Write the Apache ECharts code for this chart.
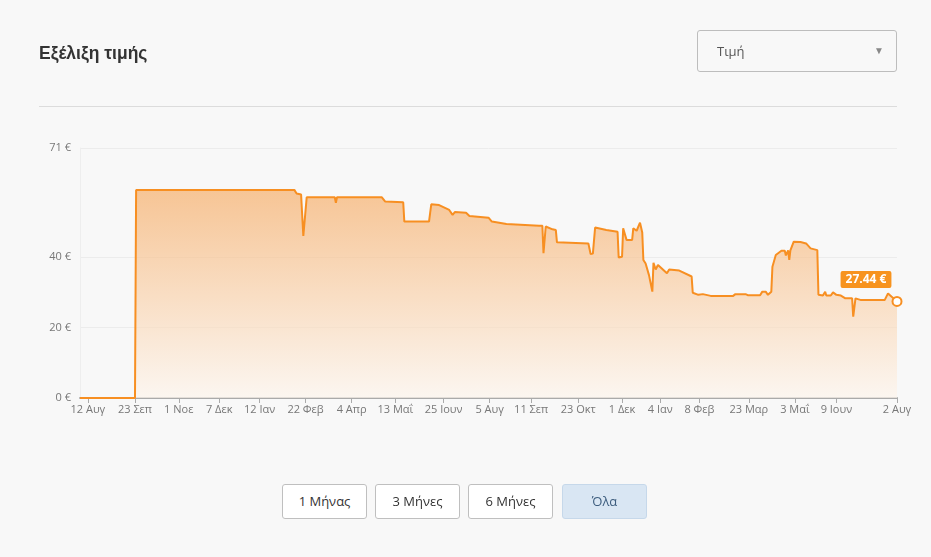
<!DOCTYPE html>
<html>
<head>
<meta charset="utf-8">
<script src="https://cdn.jsdelivr.net/npm/echarts@6/dist/echarts.min.js"></script>
<style>
  html, body { margin: 0; padding: 0; background: #f8f8f8; }
  #wrap { position: relative; width: 931px; height: 557px; overflow: hidden; background: #f8f8f8; }
  #chart { position: absolute; left: 0; top: 0; width: 931px; height: 557px; }
  .title { position: absolute; left: 39px; top: 43px; font-family: "Liberation Sans", Arial, sans-serif; font-weight: bold; font-size: 17.5px; color: #333; }
  .sep { position: absolute; left: 39px; top: 106px; width: 858px; height: 1px; background: #dcdcdc; }
  .select { position: absolute; left: 697px; top: 30px; width: 200px; height: 42px; border: 1px solid #bdbdbd; border-radius: 3px; box-sizing: border-box; font-family: "Open Sans", sans-serif; font-size: 13px; color: #555; }
  .select .txt { position: absolute; left: 19px; top: 11px; }
  .select .arr { position: absolute; right: 12px; top: 12px; font-size: 10px; color: #888; }
  .btn { position: absolute; top: 484px; height: 35px; width: 85px; box-sizing: border-box; border: 1px solid #bfbfbf; border-radius: 3px; background: #fff; font-family: "Open Sans", sans-serif; font-size: 13px; color: #333; text-align: center; line-height: 33px; }
  .btn.active { background: #d9e6f3; border-color: #c6d8ea; color: #3d5d7e; }
</style>
</head>
<body>
<div id="wrap">
  <div id="chart"></div>
  <div class="title">Εξέλιξη τιμής</div>
  <div class="select"><span class="txt">Τιμή</span><span class="arr">▼</span></div>
  <div class="sep"></div>
  <div class="btn" style="left:282px">1 Μήνας</div>
  <div class="btn" style="left:375px">3 Μήνες</div>
  <div class="btn" style="left:468px">6 Μήνες</div>
  <div class="btn active" style="left:562px">Όλα</div>
</div>
<script>
// ---- data ----
const priceDates = [
  '2022-08-05','2022-09-23','2022-09-24','2023-02-12','2023-02-14','2023-02-18','2023-02-20','2023-02-23',
  '2023-03-20','2023-03-21','2023-03-22','2023-05-01','2023-05-04','2023-05-20','2023-05-21','2023-06-12',
  '2023-06-14','2023-06-21','2023-06-30','2023-07-03','2023-07-05','2023-07-15','2023-07-18','2023-08-04',
  '2023-08-07','2023-08-20','2023-09-18','2023-09-21','2023-09-22','2023-09-24','2023-09-30','2023-10-03',
  '2023-10-04','2023-11-01','2023-11-03','2023-11-05','2023-11-07','2023-11-17','2023-11-27','2023-11-28',
  '2023-12-01','2023-12-02','2023-12-05','2023-12-10','2023-12-11','2023-12-14','2023-12-17','2023-12-19',
  '2023-12-20','2023-12-22','2023-12-25','2023-12-28','2023-12-29','2023-12-31','2024-01-02','2024-01-10',
  '2024-01-12','2024-01-21','2024-02-01','2024-02-02','2024-02-07','2024-02-11','2024-02-18','2024-03-09',
  '2024-03-11','2024-03-20','2024-03-22','2024-04-02','2024-04-04','2024-04-07','2024-04-09','2024-04-12',
  '2024-04-13','2024-04-16','2024-04-21','2024-04-24','2024-04-25','2024-04-27','2024-04-28','2024-04-29',
  '2024-05-02','2024-05-08','2024-05-13','2024-05-17','2024-05-23','2024-05-24','2024-05-28','2024-05-30',
  '2024-05-31','2024-06-04','2024-06-06','2024-06-09','2024-06-13','2024-06-17','2024-06-23','2024-06-24',
  '2024-06-26','2024-07-01','2024-07-22','2024-07-25','2024-07-28','2024-08-02'
];
const priceValues = [
  0, 0, 59.1, 59.1, 58.1, 57.8, 46, 57,
  57, 55.4, 57, 57, 55.8, 55.6, 50.1, 50.1,
  55, 54.8, 53.4, 52, 52.8, 52.6, 51.7, 51.2,
  50.1, 49.4, 48.9, 48.9, 41.1, 48.7, 47.9, 47.7,
  44.2, 43.9, 40.9, 41, 48.4, 47.7, 47.2, 39.9,
  40.1, 48.2, 44.9, 44.9, 48.2, 47.5, 49.8, 47,
  39.2, 38.2, 34.9, 30.2, 38.4, 36.5, 37.8, 35.4,
  36.5, 36.2, 34.5, 29.9, 29.3, 29.5, 29, 29,
  29.5, 29.5, 29.2, 29.2, 30.2, 30.2, 29.3, 30.2,
  37.3, 40.6, 41.8, 41.8, 40.5, 41.9, 39.2, 41.9,
  44.4, 44.3, 43.9, 42.5, 42, 29.3, 29.1, 30.2,
  29.1, 29.1, 30, 29.3, 29.1, 28.3, 28.3, 23.1,
  28.3, 27.8, 27.8, 29.7, 28.8, 27.44
];
const xTickDates = [
  '2022-08-12','2022-09-23','2022-11-01','2022-12-07','2023-01-12','2023-02-22','2023-04-04',
  '2023-05-13','2023-06-25','2023-08-05','2023-09-11','2023-10-23','2023-12-01','2024-01-04',
  '2024-02-08','2024-03-23','2024-05-03','2024-06-09','2024-08-02'
];
const yTicks = [0, 20, 40, 71];
const monthNames = ['Ιαν','Φεβ','Μαρ','Απρ','Μαΐ','Ιουν','Ιουλ','Αυγ','Σεπ','Οκτ','Νοε','Δεκ'];
const xMin = '2022-08-05';
const xMax = '2024-08-02';

// ---- chart ----
const toTs = s => { const p = s.split('-').map(Number); return Date.UTC(p[0], p[1] - 1, p[2]); };
const seriesData = priceDates.map((d, i) => [toTs(d), priceValues[i]]);
const last = seriesData[seriesData.length - 1];
const tickTs = xTickDates.map(toTs);

const chart = echarts.init(document.getElementById('chart'), null, { renderer: 'canvas' });
chart.setOption({
  animation: false,
  backgroundColor: 'transparent',
  grid: { left: 80, right: 34, top: 148, bottom: 159, containLabel: false },
  xAxis: {
    type: 'value',
    min: toTs(xMin),
    max: toTs(xMax),
    axisLine: { show: true, lineStyle: { color: '#aaaaaa', width: 2 } },
    axisTick: { show: true, length: 5, lineStyle: { color: '#aaaaaa', width: 1 }, customValues: tickTs },
    axisLabel: {
      customValues: tickTs,
      color: '#777',
      fontSize: 11,
      fontFamily: 'Open Sans',
      margin: 6,
      hideOverlap: false,
      formatter: v => { const d = new Date(v); return d.getUTCDate() + ' ' + monthNames[d.getUTCMonth()]; }
    },
    splitLine: { show: false }
  },
  yAxis: {
    type: 'value',
    min: 0,
    max: 71,
    axisLine: { show: true, lineStyle: { color: '#eeeeee', width: 1 } },
    axisTick: { show: false, customValues: yTicks },
    axisLabel: { customValues: yTicks, color: '#777', fontSize: 11, fontFamily: 'Open Sans', margin: 9, formatter: v => v + ' €' },
    splitLine: { show: true, lineStyle: { color: '#ececec', width: 1 } }
  },
  series: [
    {
      type: 'line',
      data: seriesData,
      showSymbol: false,
      symbol: 'none',
      lineStyle: { color: '#f78f22', width: 2 },
      areaStyle: {
        color: new echarts.graphic.LinearGradient(0, 0, 0, 1, [
          { offset: 0, color: '#f5ae6a' },
          { offset: 1, color: '#fcf4ec' }
        ])
      },
      z: 3
    },
    {
      type: 'scatter',
      data: [last],
      symbol: 'circle',
      symbolSize: 9,
      itemStyle: { color: '#ffffff', borderColor: '#f78f22', borderWidth: 2, opacity: 1 },
      label: {
        show: true,
        position: 'top',
        distance: 5,
        offset: [-31, -3],
        formatter: p => p.value[1].toFixed(2) + ' €',
        backgroundColor: '#f7931e',
        color: '#fff',
        fontWeight: 'bold',
        fontSize: 12,
        fontFamily: 'Open Sans',
        padding: [3, 5, 2, 5],
        borderRadius: 2,
        opacity: 1
      },
      z: 5
    }
  ]
});
</script>
</body>
</html>
